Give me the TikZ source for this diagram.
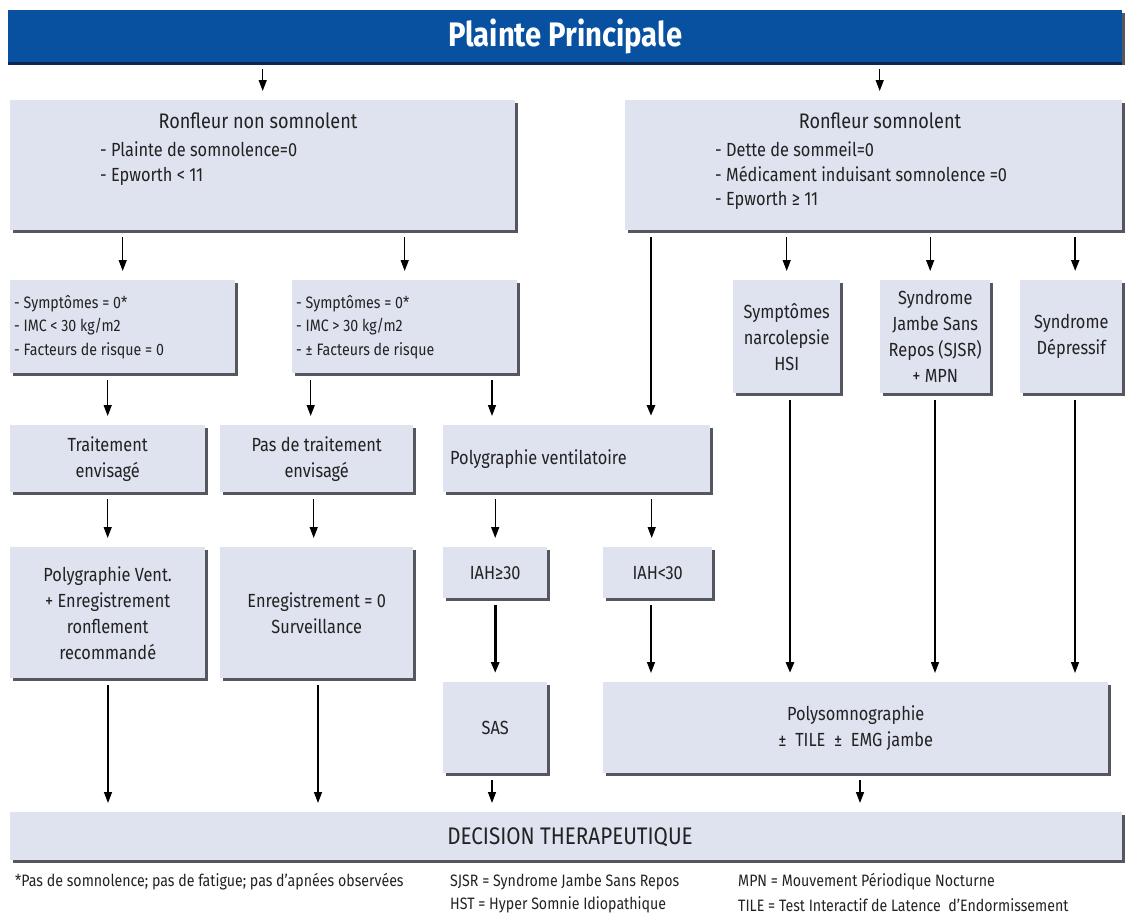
\documentclass[tikz,border=0pt]{standalone}
\usepackage{fontspec}
\setmainfont{Fira Sans}[FakeStretch=0.86]
\usetikzlibrary{arrows.meta,shadows}
\definecolor{boxfill}{HTML}{DFE2EF}
\definecolor{titleblue}{HTML}{0751A0}
\definecolor{titledark}{HTML}{0B2650}
\definecolor{shadowgray}{HTML}{55565E}
\definecolor{txt}{HTML}{222222}
\tikzset{
	box/.style={fill=boxfill, anchor=north west, inner sep=0pt, align=center, text=txt,
		drop shadow={shadow xshift=3pt, shadow yshift=-3pt, fill=shadowgray, opacity=1},
		font=\fontsize{19}{26}\selectfont},
	listtxt/.style={anchor=west, inner sep=0pt, text=txt, font=\fontsize{19}{22}\selectfont},
	smalltxt/.style={anchor=west, inner sep=0pt, text=txt, font=\fontsize{16.5}{20}\selectfont},
	foot/.style={anchor=west, inner sep=0pt, text=txt, font=\fontsize{16.5}{20}\selectfont},
	flow/.style={-{Triangle[width=8pt,length=11pt]}, line width=1.4pt, shorten <=7pt, shorten >=9pt},
	bigflow/.style={flow, line width=2.8pt}
}
\begin{document}
\begin{tikzpicture}[x=1pt, y=-1pt, line join=round]
	\useasboundingbox (0,0) rectangle (1129,918);
	% Titre
	\node[box, fill=titleblue, text=white, minimum width=1114pt, minimum height=52pt,
		drop shadow={shadow xshift=0pt, shadow yshift=-3pt, fill=titledark, opacity=1},
		font=\fontsize{34}{38}\bfseries] (nT) at (8,10) {Plainte Principale};
	% Niveau 1
	\node[box, minimum width=505pt, minimum height=130pt] (nA) at (10,100) {};
	\node[box, minimum width=497pt, minimum height=130pt] (nB) at (625,100) {};
	\node[listtxt, anchor=center, font=\fontsize{21}{24}\selectfont] (tA) at (258,121) {Ronfleur non somnolent};
	\node[listtxt] (tA1) at (100,149) {- Plainte de somnolence=0};
	\node[listtxt] (tA2) at (100,176) {- Epworth < 11};
	\node[listtxt, anchor=center, font=\fontsize{21}{24}\selectfont] (tB) at (880,121) {Ronfleur somnolent};
	\node[listtxt] (tB1) at (715,149) {- Dette de sommeil=0};
	\node[listtxt] (tB2) at (715,174) {- Médicament induisant somnolence =0};
	\node[listtxt] (tB3) at (715,200) {- Epworth ≥ 11};
	% Niveau 2
	\node[box, minimum width=225pt, minimum height=93pt] (nC1) at (10,280) {};
	\node[box, minimum width=225pt, minimum height=93pt] (nC2) at (292,280) {};
	\node[smalltxt] (tC11) at (14,304) {- Symptômes = 0*};
	\node[smalltxt] (tC12) at (14,327) {- IMC < 30 kg/m2};
	\node[smalltxt] (tC13) at (14,351) {- Facteurs de risque = 0};
	\node[smalltxt] (tC21) at (296,304) {- Symptômes = 0*};
	\node[smalltxt] (tC22) at (296,327) {- IMC > 30 kg/m2};
	\node[smalltxt] (tC23) at (296,351) {- ± Facteurs de risque};
	\node[box, minimum width=107pt, minimum height=113pt] (nD1) at (733,280) {Symptômes\\narcolepsie\\HSI};
	\node[box, minimum width=110pt, minimum height=113pt] (nD2) at (880,280) {Syndrome\\Jambe Sans\\Repos (SJSR)\\+ MPN};
	\node[box, minimum width=102pt, minimum height=113pt] (nD3) at (1020,280) {Syndrome\\Dépressif};
	% Niveau 3
	\node[box, minimum width=195pt, minimum height=67pt] (nE1) at (10,425) {Traitement\\envisagé};
	\node[box, minimum width=193pt, minimum height=67pt] (nE2) at (220,425) {Pas de traitement\\envisagé};
	\node[box, minimum width=267pt, minimum height=67pt] (nE3) at (443,425) {};
	\node[listtxt] (tE3) at ([xshift=7pt]nE3.west) {Polygraphie ventilatoire};
	% Niveau 4
	\node[box, minimum width=195pt, minimum height=131pt] (nF1) at (10,547) {Polygraphie Vent.\\+ Enregistrement\\ronflement\\recommandé};
	\node[box, minimum width=193pt, minimum height=131pt] (nF2) at (220,547) {Enregistrement = 0\\Surveillance};
	\node[box, minimum width=104pt, minimum height=51pt] (nF3) at (443,547) {IAH≥30};
	\node[box, minimum width=109pt, minimum height=51pt] (nF4) at (603,547) {IAH<30};
	% Niveau 5
	\node[box, minimum width=104pt, minimum height=91pt] (nG1) at (443,682) {SAS};
	\node[box, minimum width=505pt, minimum height=91pt] (nG2) at (603,682) {Polysomnographie\\± \ TILE \ ± \ EMG jambe};
	% Decision
	\node[box, minimum width=1112pt, minimum height=48pt] (nH) at (10,812) {};
	\node[listtxt, anchor=center, font=\fontsize{24}{28}\selectfont] (tH) at (570,837) {DECISION THERAPEUTIQUE};
	% Points de depart des fleches
	\coordinate (aB) at ([xshift=6pt]nB.north);
	\coordinate (aE3) at ([xshift=49pt]nE3.north west);
	\coordinate (bE3) at ([xshift=208pt]nE3.north west);
	\coordinate (aG2) at ([xshift=48pt]nG2.north west);
	\coordinate (bG2) at ([xshift=187pt]nG2.north west);
	\coordinate (cG2) at ([xshift=332pt]nG2.north west);
	\coordinate (dG2) at ([xshift=472pt]nG2.north west);
	\coordinate (hF1) at ([xshift=98pt]nH.north west);
	\coordinate (hF2) at ([xshift=308pt]nH.north west);
	\coordinate (hG1) at ([xshift=482pt]nH.north west);
	\coordinate (hG2) at ([xshift=850pt]nH.north west);
	% Fleches
	\draw[flow] (nA |- nT.south) -- (nA.north);
	\draw[flow] (aB |- nT.south) -- (aB);
	\draw[flow] (nC1 |- nA.south) -- (nC1.north);
	\draw[flow] (nC2 |- nA.south) -- (nC2.north);
	\draw[bigflow] (bE3 |- nB.south) -- (bE3);
	\draw[flow] (nD1 |- nB.south) -- (nD1.north);
	\draw[flow] ([xshift=-5pt]nD2.north |- nB.south) -- ([xshift=-5pt]nD2.north);
	\draw[flow, line width=2pt] ([xshift=4pt]nD3.north |- nB.south) -- ([xshift=4pt]nD3.north);
	\draw[flow] (nE1 |- nC1.south) -- (nE1.north);
	\draw[flow] ([xshift=-6pt]nE2.north |- nC2.south) -- ([xshift=-6pt]nE2.north);
	\draw[flow] (aE3 |- nC2.south) -- (aE3);
	\draw[flow] (nF1 |- nE1.south) -- (nF1.north);
	\draw[flow] ([xshift=-3pt]nF2.north |- nE2.south) -- ([xshift=-3pt]nF2.north);
	\draw[flow] (nF3 |- nE3.south) -- (nF3.north);
	\draw[flow] ([xshift=-6pt]nF4.north |- nE3.south) -- ([xshift=-6pt]nF4.north);
	\draw[bigflow] (nG1 |- nF3.south) -- (nG1.north);
	\draw[flow] (aG2 |- nF4.south) -- (aG2);
	\draw[bigflow] (bG2 |- nD1.south) -- (bG2);
	\draw[flow] (cG2 |- nD2.south) -- (cG2);
	\draw[flow] (dG2 |- nD3.south) -- (dG2);
	\draw[flow] (hF1 |- nF1.south) -- (hF1);
	\draw[flow] (hF2 |- nF2.south) -- (hF2);
	\draw[flow] (hG1 |- nG1.south) -- (hG1);
	\draw[flow] (hG2 |- nG2.south) -- (hG2);
	% Notes
	\node[foot] (n1) at (15,882) {*Pas de somnolence; pas de fatigue; pas d'apnées observées};
	\node[foot] (n2) at (450,882) {SJSR = Syndrome Jambe Sans Repos};
	\node[foot] (n3) at (450,905) {HST = Hyper Somnie Idiopathique};
	\node[foot] (n4) at (738,882) {MPN = Mouvement Périodique Nocturne};
	\node[foot] (n5) at (738,905) {TILE = Test Interactif de Latence \ d'Endormissement};
\end{tikzpicture}
\end{document}
